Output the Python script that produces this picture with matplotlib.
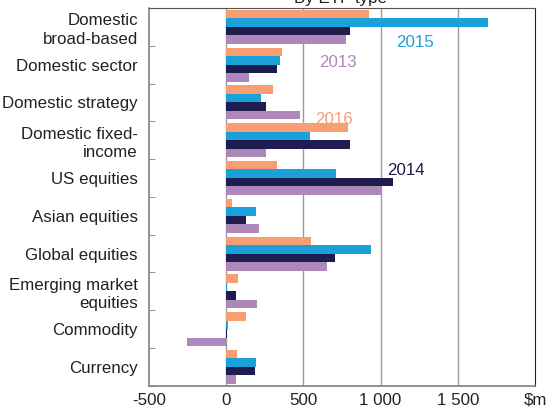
import matplotlib
matplotlib.use("Agg")
import matplotlib.pyplot as plt
import numpy as np

plt.rcParams["font.family"] = ["Liberation Sans", "DejaVu Sans"]

categories = [
    "Domestic\nbroad-based",
    "Domestic sector",
    "Domestic strategy",
    "Domestic fixed-\nincome",
    "US equities",
    "Asian equities",
    "Global equities",
    "Emerging market\nequities",
    "Commodity",
    "Currency",
]

# $m, one list per year (top to bottom within each category: 2016, 2015, 2014, 2013)
v2016 = [923, 360, 302, 790, 331, 38, 547, 79, 131, 70]
v2015 = [1694, 349, 225, 545, 709, 194, 941, 7, 14, 191]
v2014 = [800, 327, 261, 800, 1079, 128, 703, 63, 7, 187]
v2013 = [775, 146, 477, 259, 1000, 212, 651, 200, -255, 63]

years = ["2016", "2015", "2014", "2013"]
series = [v2016, v2015, v2014, v2013]
colors = ["#F89E72", "#1BA1DA", "#1F1C50", "#AE88BA"]

xticks = [-500, 0, 500, 1000, 1500, 2000]
xticklabels = ["-500", "0", "500", "1 000", "1 500", "$m"]

FS = 12.2

fig = plt.figure(figsize=(5.47, 4.11), dpi=100)
ax = fig.add_axes([149 / 547, 1 - 385.7 / 411, (535 - 149) / 547, (385.7 - 8) / 411])

y = np.arange(len(categories))
h = 0.225
for k, (vals, c) in enumerate(zip(series, colors)):
    ax.barh(y - 1.5 * h + k * h, vals, height=h, color=c, linewidth=0, zorder=3)

ax.set_xlim(-500, 2000)
ax.set_ylim(len(categories) - 0.5, -0.5)

for gx in [0, 500, 1000, 1500]:
    ax.axvline(gx, color="#9a9a9a", lw=1.0, zorder=1)

ax.set_xticks(xticks)
ax.set_xticklabels(xticklabels, fontsize=FS, color="#222222")
ax.tick_params(axis="x", length=0, pad=5)

ax.set_yticks(y)
ax.set_yticklabels(categories, fontsize=FS, color="#222222", linespacing=1.3)
ax.tick_params(axis="y", length=0, pad=8)
# boundary ticks on the left spine
ax.set_yticks(np.arange(len(categories)) + 0.5, minor=True)
ax.tick_params(axis="y", which="minor", direction="in", length=4, color="#808080")

for side in ["left", "bottom"]:
    ax.spines[side].set_color("#808080")
    ax.spines[side].set_linewidth(1.2)
ax.spines["top"].set_color("#555555")
ax.spines["right"].set_color("#222222")

# year labels
ax.text(1225, 0.42, "2015", color=colors[1], fontsize=FS, ha="center", va="center")
ax.text(726, 0.93, "2013", color=colors[3], fontsize=FS, ha="center", va="center")
ax.text(700, 2.46, "2016", color=colors[0], fontsize=FS, ha="center", va="center")
ax.text(1167, 3.79, "2014", color=colors[2], fontsize=FS, ha="center", va="center")

# title, clipped by the top of the image as in the source
fig.text(341 / 547, 1 - 3 / 411, "By ETF type", fontsize=FS, ha="center",
         va="baseline", color="#222222")

fig.savefig("out.png", dpi=100)
